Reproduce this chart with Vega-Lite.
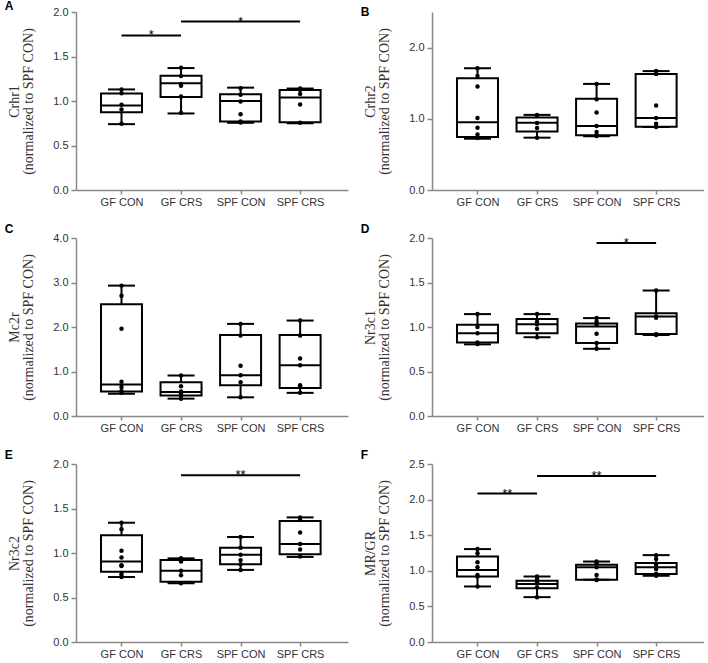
{
  "$schema": "https://vega.github.io/schema/vega-lite/v6.json",
  "padding": {"left": 4, "top": 0, "right": 0, "bottom": 0},
  "background": "#ffffff",
  "columns": 2,
  "spacing": {"row": 16, "column": 12},
  "datasets": {
    "boxes": [
      {"panel": "A", "group": "GF CON", "min": 0.74, "q1": 0.875, "median": 0.95, "q3": 1.085, "max": 1.13},
      {"panel": "A", "group": "GF CRS", "min": 0.86, "q1": 1.045, "median": 1.2, "q3": 1.285, "max": 1.37},
      {"panel": "A", "group": "SPF CON", "min": 0.755, "q1": 0.77, "median": 1.0, "q3": 1.075, "max": 1.15},
      {"panel": "A", "group": "SPF CRS", "min": 0.75, "q1": 0.76, "median": 1.04, "q3": 1.125, "max": 1.14},
      {"panel": "B", "group": "GF CON", "min": 0.72, "q1": 0.745, "median": 0.95, "q3": 1.57, "max": 1.71},
      {"panel": "B", "group": "GF CRS", "min": 0.735, "q1": 0.82, "median": 0.945, "q3": 1.02, "max": 1.055},
      {"panel": "B", "group": "SPF CON", "min": 0.755, "q1": 0.77, "median": 0.9, "q3": 1.28, "max": 1.49},
      {"panel": "B", "group": "SPF CRS", "min": 0.885, "q1": 0.89, "median": 1.01, "q3": 1.63, "max": 1.67},
      {"panel": "C", "group": "GF CON", "min": 0.5, "q1": 0.55, "median": 0.71, "q3": 2.51, "max": 2.93},
      {"panel": "C", "group": "GF CRS", "min": 0.39, "q1": 0.46, "median": 0.54, "q3": 0.76, "max": 0.91},
      {"panel": "C", "group": "SPF CON", "min": 0.42, "q1": 0.69, "median": 0.915, "q3": 1.82, "max": 2.07},
      {"panel": "C", "group": "SPF CRS", "min": 0.52, "q1": 0.63, "median": 1.14, "q3": 1.82, "max": 2.145},
      {"panel": "D", "group": "GF CON", "min": 0.805, "q1": 0.825, "median": 0.93, "q3": 1.025, "max": 1.145},
      {"panel": "D", "group": "GF CRS", "min": 0.885, "q1": 0.93, "median": 1.03, "q3": 1.09, "max": 1.145},
      {"panel": "D", "group": "SPF CON", "min": 0.755, "q1": 0.82, "median": 1.006, "q3": 1.04, "max": 1.1},
      {"panel": "D", "group": "SPF CRS", "min": 0.91, "q1": 0.92, "median": 1.117, "q3": 1.155, "max": 1.41},
      {"panel": "E", "group": "GF CON", "min": 0.73, "q1": 0.788, "median": 0.905, "q3": 1.2, "max": 1.34},
      {"panel": "E", "group": "GF CRS", "min": 0.66, "q1": 0.676, "median": 0.8, "q3": 0.92, "max": 0.94},
      {"panel": "E", "group": "SPF CON", "min": 0.81, "q1": 0.875, "median": 0.98, "q3": 1.06, "max": 1.18},
      {"panel": "E", "group": "SPF CRS", "min": 0.956, "q1": 0.987, "median": 1.1, "q3": 1.36, "max": 1.4},
      {"panel": "F", "group": "GF CON", "min": 0.78, "q1": 0.92, "median": 1.01, "q3": 1.2, "max": 1.305},
      {"panel": "F", "group": "GF CRS", "min": 0.63, "q1": 0.755, "median": 0.815, "q3": 0.86, "max": 0.92},
      {"panel": "F", "group": "SPF CON", "min": 0.875, "q1": 0.875, "median": 1.05, "q3": 1.086, "max": 1.13},
      {"panel": "F", "group": "SPF CRS", "min": 0.93, "q1": 0.955, "median": 1.05, "q3": 1.11, "max": 1.22}
    ],
    "points": [
      {"panel": "A", "group": "GF CON", "value": 1.13}, {"panel": "A", "group": "GF CON", "value": 1.088}, {"panel": "A", "group": "GF CON", "value": 0.957}, {"panel": "A", "group": "GF CON", "value": 0.905}, {"panel": "A", "group": "GF CON", "value": 0.745},
      {"panel": "A", "group": "GF CRS", "value": 1.375}, {"panel": "A", "group": "GF CRS", "value": 1.28}, {"panel": "A", "group": "GF CRS", "value": 1.19}, {"panel": "A", "group": "GF CRS", "value": 1.17}, {"panel": "A", "group": "GF CRS", "value": 1.05}, {"panel": "A", "group": "GF CRS", "value": 0.868},
      {"panel": "A", "group": "SPF CON", "value": 1.144}, {"panel": "A", "group": "SPF CON", "value": 1.07}, {"panel": "A", "group": "SPF CON", "value": 0.994}, {"panel": "A", "group": "SPF CON", "value": 0.85}, {"panel": "A", "group": "SPF CON", "value": 0.77}, {"panel": "A", "group": "SPF CON", "value": 0.758},
      {"panel": "A", "group": "SPF CRS", "value": 1.14}, {"panel": "A", "group": "SPF CRS", "value": 1.125}, {"panel": "A", "group": "SPF CRS", "value": 1.08}, {"panel": "A", "group": "SPF CRS", "value": 0.96}, {"panel": "A", "group": "SPF CRS", "value": 0.755},
      {"panel": "B", "group": "GF CON", "value": 1.71}, {"panel": "B", "group": "GF CON", "value": 1.6}, {"panel": "B", "group": "GF CON", "value": 1.455}, {"panel": "B", "group": "GF CON", "value": 1.01}, {"panel": "B", "group": "GF CON", "value": 0.875}, {"panel": "B", "group": "GF CON", "value": 0.78}, {"panel": "B", "group": "GF CON", "value": 0.73},
      {"panel": "B", "group": "GF CRS", "value": 1.055}, {"panel": "B", "group": "GF CRS", "value": 1.04}, {"panel": "B", "group": "GF CRS", "value": 0.94}, {"panel": "B", "group": "GF CRS", "value": 0.87}, {"panel": "B", "group": "GF CRS", "value": 0.735},
      {"panel": "B", "group": "SPF CON", "value": 1.49}, {"panel": "B", "group": "SPF CON", "value": 1.275}, {"panel": "B", "group": "SPF CON", "value": 1.09}, {"panel": "B", "group": "SPF CON", "value": 0.9}, {"panel": "B", "group": "SPF CON", "value": 0.815}, {"panel": "B", "group": "SPF CON", "value": 0.77}, {"panel": "B", "group": "SPF CON", "value": 0.758},
      {"panel": "B", "group": "SPF CRS", "value": 1.67}, {"panel": "B", "group": "SPF CRS", "value": 1.63}, {"panel": "B", "group": "SPF CRS", "value": 1.186}, {"panel": "B", "group": "SPF CRS", "value": 1.01}, {"panel": "B", "group": "SPF CRS", "value": 0.93}, {"panel": "B", "group": "SPF CRS", "value": 0.885},
      {"panel": "C", "group": "GF CON", "value": 2.93}, {"panel": "C", "group": "GF CON", "value": 2.7}, {"panel": "C", "group": "GF CON", "value": 1.96}, {"panel": "C", "group": "GF CON", "value": 0.77}, {"panel": "C", "group": "GF CON", "value": 0.65}, {"panel": "C", "group": "GF CON", "value": 0.56}, {"panel": "C", "group": "GF CON", "value": 0.52},
      {"panel": "C", "group": "GF CRS", "value": 0.91}, {"panel": "C", "group": "GF CRS", "value": 0.67}, {"panel": "C", "group": "GF CRS", "value": 0.55}, {"panel": "C", "group": "GF CRS", "value": 0.5}, {"panel": "C", "group": "GF CRS", "value": 0.45}, {"panel": "C", "group": "GF CRS", "value": 0.39},
      {"panel": "C", "group": "SPF CON", "value": 2.07}, {"panel": "C", "group": "SPF CON", "value": 1.81}, {"panel": "C", "group": "SPF CON", "value": 1.13}, {"panel": "C", "group": "SPF CON", "value": 0.915}, {"panel": "C", "group": "SPF CON", "value": 0.76}, {"panel": "C", "group": "SPF CON", "value": 0.42},
      {"panel": "C", "group": "SPF CRS", "value": 2.145}, {"panel": "C", "group": "SPF CRS", "value": 1.81}, {"panel": "C", "group": "SPF CRS", "value": 1.29}, {"panel": "C", "group": "SPF CRS", "value": 1.14}, {"panel": "C", "group": "SPF CRS", "value": 0.69}, {"panel": "C", "group": "SPF CRS", "value": 0.655}, {"panel": "C", "group": "SPF CRS", "value": 0.52},
      {"panel": "D", "group": "GF CON", "value": 1.145}, {"panel": "D", "group": "GF CON", "value": 1.0}, {"panel": "D", "group": "GF CON", "value": 0.93}, {"panel": "D", "group": "GF CON", "value": 0.825}, {"panel": "D", "group": "GF CON", "value": 0.81},
      {"panel": "D", "group": "GF CRS", "value": 1.145}, {"panel": "D", "group": "GF CRS", "value": 1.06}, {"panel": "D", "group": "GF CRS", "value": 1.03}, {"panel": "D", "group": "GF CRS", "value": 0.98}, {"panel": "D", "group": "GF CRS", "value": 0.885},
      {"panel": "D", "group": "SPF CON", "value": 1.1}, {"panel": "D", "group": "SPF CON", "value": 1.06}, {"panel": "D", "group": "SPF CON", "value": 1.03}, {"panel": "D", "group": "SPF CON", "value": 0.925}, {"panel": "D", "group": "SPF CON", "value": 0.82}, {"panel": "D", "group": "SPF CON", "value": 0.755},
      {"panel": "D", "group": "SPF CRS", "value": 1.41}, {"panel": "D", "group": "SPF CRS", "value": 1.12}, {"panel": "D", "group": "SPF CRS", "value": 1.105}, {"panel": "D", "group": "SPF CRS", "value": 0.92}, {"panel": "D", "group": "SPF CRS", "value": 0.91},
      {"panel": "E", "group": "GF CON", "value": 1.34}, {"panel": "E", "group": "GF CON", "value": 1.267}, {"panel": "E", "group": "GF CON", "value": 1.025}, {"panel": "E", "group": "GF CON", "value": 0.95}, {"panel": "E", "group": "GF CON", "value": 0.863}, {"panel": "E", "group": "GF CON", "value": 0.855}, {"panel": "E", "group": "GF CON", "value": 0.76}, {"panel": "E", "group": "GF CON", "value": 0.73},
      {"panel": "E", "group": "GF CRS", "value": 0.94}, {"panel": "E", "group": "GF CRS", "value": 0.905}, {"panel": "E", "group": "GF CRS", "value": 0.8}, {"panel": "E", "group": "GF CRS", "value": 0.75}, {"panel": "E", "group": "GF CRS", "value": 0.66},
      {"panel": "E", "group": "SPF CON", "value": 1.18}, {"panel": "E", "group": "SPF CON", "value": 1.06}, {"panel": "E", "group": "SPF CON", "value": 0.98}, {"panel": "E", "group": "SPF CON", "value": 0.92}, {"panel": "E", "group": "SPF CON", "value": 0.875}, {"panel": "E", "group": "SPF CON", "value": 0.81},
      {"panel": "E", "group": "SPF CRS", "value": 1.4}, {"panel": "E", "group": "SPF CRS", "value": 1.37}, {"panel": "E", "group": "SPF CRS", "value": 1.23}, {"panel": "E", "group": "SPF CRS", "value": 1.1}, {"panel": "E", "group": "SPF CRS", "value": 1.04}, {"panel": "E", "group": "SPF CRS", "value": 0.96},
      {"panel": "F", "group": "GF CON", "value": 1.305}, {"panel": "F", "group": "GF CON", "value": 1.245}, {"panel": "F", "group": "GF CON", "value": 1.12}, {"panel": "F", "group": "GF CON", "value": 1.05}, {"panel": "F", "group": "GF CON", "value": 0.94}, {"panel": "F", "group": "GF CON", "value": 0.92}, {"panel": "F", "group": "GF CON", "value": 0.78},
      {"panel": "F", "group": "GF CRS", "value": 0.92}, {"panel": "F", "group": "GF CRS", "value": 0.885}, {"panel": "F", "group": "GF CRS", "value": 0.84}, {"panel": "F", "group": "GF CRS", "value": 0.77}, {"panel": "F", "group": "GF CRS", "value": 0.63},
      {"panel": "F", "group": "SPF CON", "value": 1.13}, {"panel": "F", "group": "SPF CON", "value": 1.105}, {"panel": "F", "group": "SPF CON", "value": 1.05}, {"panel": "F", "group": "SPF CON", "value": 0.94}, {"panel": "F", "group": "SPF CON", "value": 0.878}, {"panel": "F", "group": "SPF CON", "value": 0.872},
      {"panel": "F", "group": "SPF CRS", "value": 1.22}, {"panel": "F", "group": "SPF CRS", "value": 1.165}, {"panel": "F", "group": "SPF CRS", "value": 1.085}, {"panel": "F", "group": "SPF CRS", "value": 1.025}, {"panel": "F", "group": "SPF CRS", "value": 0.96}, {"panel": "F", "group": "SPF CRS", "value": 0.94}, {"panel": "F", "group": "SPF CRS", "value": 0.93}
    ],
    "sig": [
      {"panel": "A", "from": "GF CON", "to": "GF CRS", "y": 1.736, "label": "*"},
      {"panel": "A", "from": "GF CRS", "to": "SPF CRS", "y": 1.892, "label": "*"},
      {"panel": "D", "from": "SPF CON", "to": "SPF CRS", "y": 1.944, "label": "*"},
      {"panel": "E", "from": "GF CRS", "to": "SPF CRS", "y": 1.873, "label": "**"},
      {"panel": "F", "from": "GF CON", "to": "GF CRS", "y": 2.084, "label": "**"},
      {"panel": "F", "from": "GF CRS", "to": "SPF CRS", "y": 2.332, "label": "**"}
    ]
  },
  "concat": [
    {
      "title": {"text": "A", "offset": -7},
      "width": 272, "height": 178,
      "encoding": {"x": {"field": "xi", "type": "quantitative", "scale": {"domain": [-0.68, 3.72], "nice": false, "zero": false}, "axis": {"values": [0, 1, 2, 3], "labelExpr": "['GF CON','GF CRS','SPF CON','SPF CRS'][datum.value]", "title": null}}},
      "layer": [
        {"data": {"name": "boxes"}, "transform": [{"filter": "datum.panel==='A'"}, {"calculate": "indexof(['GF CON','GF CRS','SPF CON','SPF CRS'],datum.group)", "as": "xi"}],
         "mark": {"type": "rule", "color": "#000", "strokeWidth": 2},
         "encoding": {"y": {"field": "min", "type": "quantitative", "scale": {"domain": [0, 2], "nice": false}, "axis": {"values": [0, 0.5, 1, 1.5, 2], "format": ".1f", "title": ["Crhr1", "(normalized to SPF CON)"]}}, "y2": {"field": "max"}}},
        {"data": {"name": "boxes"}, "transform": [{"filter": "datum.panel==='A'"}, {"calculate": "indexof(['GF CON','GF CRS','SPF CON','SPF CRS'],datum.group)", "as": "xi"}],
         "mark": {"type": "bar", "fill": "#fff", "stroke": "#000", "strokeWidth": 2, "width": 41},
         "encoding": {"y": {"field": "q1", "type": "quantitative", "scale": {"domain": [0, 2], "nice": false}}, "y2": {"field": "q3"}}},
        {"data": {"name": "boxes"}, "transform": [{"filter": "datum.panel==='A'"}, {"calculate": "indexof(['GF CON','GF CRS','SPF CON','SPF CRS'],datum.group)", "as": "xi"}],
         "mark": {"type": "tick", "orient": "horizontal", "color": "#000", "size": 41, "thickness": 2, "opacity": 1},
         "encoding": {"y": {"field": "median", "type": "quantitative", "scale": {"domain": [0, 2], "nice": false}}}},
        {"data": {"name": "boxes"}, "transform": [{"filter": "datum.panel==='A'"}, {"calculate": "indexof(['GF CON','GF CRS','SPF CON','SPF CRS'],datum.group)", "as": "xi"}],
         "mark": {"type": "tick", "orient": "horizontal", "color": "#000", "size": 27, "thickness": 2, "opacity": 1},
         "encoding": {"y": {"field": "min", "type": "quantitative", "scale": {"domain": [0, 2], "nice": false}}}},
        {"data": {"name": "boxes"}, "transform": [{"filter": "datum.panel==='A'"}, {"calculate": "indexof(['GF CON','GF CRS','SPF CON','SPF CRS'],datum.group)", "as": "xi"}],
         "mark": {"type": "tick", "orient": "horizontal", "color": "#000", "size": 27, "thickness": 2, "opacity": 1},
         "encoding": {"y": {"field": "max", "type": "quantitative", "scale": {"domain": [0, 2], "nice": false}}}},
        {"data": {"name": "points"}, "transform": [{"filter": "datum.panel==='A'"}, {"calculate": "indexof(['GF CON','GF CRS','SPF CON','SPF CRS'],datum.group)", "as": "xi"}],
         "mark": {"type": "circle", "color": "#000", "size": 20, "opacity": 1},
         "encoding": {"y": {"field": "value", "type": "quantitative", "scale": {"domain": [0, 2], "nice": false}}}},
        {"data": {"name": "sig"}, "transform": [{"filter": "datum.panel==='A'"}, {"calculate": "indexof(['GF CON','GF CRS','SPF CON','SPF CRS'],datum.from)", "as": "xf"}, {"calculate": "indexof(['GF CON','GF CRS','SPF CON','SPF CRS'],datum.to)", "as": "xt"}],
         "mark": {"type": "rule", "color": "#000", "strokeWidth": 2},
         "encoding": {"x": {"field": "xf", "type": "quantitative"}, "x2": {"field": "xt"}, "y": {"field": "y", "type": "quantitative", "scale": {"domain": [0, 2], "nice": false}}}},
        {"data": {"name": "sig"}, "transform": [{"filter": "datum.panel==='A'"}, {"calculate": "(indexof(['GF CON','GF CRS','SPF CON','SPF CRS'],datum.from)+indexof(['GF CON','GF CRS','SPF CON','SPF CRS'],datum.to))/2", "as": "xm"}],
         "mark": {"type": "text", "color": "#000", "font": "Liberation Sans", "fontSize": 13, "baseline": "alphabetic", "dy": 4},
         "encoding": {"x": {"field": "xm", "type": "quantitative"}, "y": {"field": "y", "type": "quantitative", "scale": {"domain": [0, 2], "nice": false}}, "text": {"field": "label"}}}
      ]
    },
    {
      "title": {"text": "B", "offset": -7},
      "width": 272, "height": 178,
      "encoding": {"x": {"field": "xi", "type": "quantitative", "scale": {"domain": [-0.68, 3.72], "nice": false, "zero": false}, "axis": {"values": [0, 1, 2, 3], "labelExpr": "['GF CON','GF CRS','SPF CON','SPF CRS'][datum.value]", "title": null}}},
      "layer": [
        {"data": {"name": "boxes"}, "transform": [{"filter": "datum.panel==='B'"}, {"calculate": "indexof(['GF CON','GF CRS','SPF CON','SPF CRS'],datum.group)", "as": "xi"}],
         "mark": {"type": "rule", "color": "#000", "strokeWidth": 2},
         "encoding": {"y": {"field": "min", "type": "quantitative", "scale": {"domain": [0, 2.5], "nice": false}, "axis": {"values": [0, 1, 2], "format": ".1f", "title": ["Crhr2", "(normalized to SPF CON)"]}}, "y2": {"field": "max"}}},
        {"data": {"name": "boxes"}, "transform": [{"filter": "datum.panel==='B'"}, {"calculate": "indexof(['GF CON','GF CRS','SPF CON','SPF CRS'],datum.group)", "as": "xi"}],
         "mark": {"type": "bar", "fill": "#fff", "stroke": "#000", "strokeWidth": 2, "width": 41},
         "encoding": {"y": {"field": "q1", "type": "quantitative", "scale": {"domain": [0, 2.5], "nice": false}}, "y2": {"field": "q3"}}},
        {"data": {"name": "boxes"}, "transform": [{"filter": "datum.panel==='B'"}, {"calculate": "indexof(['GF CON','GF CRS','SPF CON','SPF CRS'],datum.group)", "as": "xi"}],
         "mark": {"type": "tick", "orient": "horizontal", "color": "#000", "size": 41, "thickness": 2, "opacity": 1},
         "encoding": {"y": {"field": "median", "type": "quantitative", "scale": {"domain": [0, 2.5], "nice": false}}}},
        {"data": {"name": "boxes"}, "transform": [{"filter": "datum.panel==='B'"}, {"calculate": "indexof(['GF CON','GF CRS','SPF CON','SPF CRS'],datum.group)", "as": "xi"}],
         "mark": {"type": "tick", "orient": "horizontal", "color": "#000", "size": 27, "thickness": 2, "opacity": 1},
         "encoding": {"y": {"field": "min", "type": "quantitative", "scale": {"domain": [0, 2.5], "nice": false}}}},
        {"data": {"name": "boxes"}, "transform": [{"filter": "datum.panel==='B'"}, {"calculate": "indexof(['GF CON','GF CRS','SPF CON','SPF CRS'],datum.group)", "as": "xi"}],
         "mark": {"type": "tick", "orient": "horizontal", "color": "#000", "size": 27, "thickness": 2, "opacity": 1},
         "encoding": {"y": {"field": "max", "type": "quantitative", "scale": {"domain": [0, 2.5], "nice": false}}}},
        {"data": {"name": "points"}, "transform": [{"filter": "datum.panel==='B'"}, {"calculate": "indexof(['GF CON','GF CRS','SPF CON','SPF CRS'],datum.group)", "as": "xi"}],
         "mark": {"type": "circle", "color": "#000", "size": 20, "opacity": 1},
         "encoding": {"y": {"field": "value", "type": "quantitative", "scale": {"domain": [0, 2.5], "nice": false}}}}
      ]
    },
    {
      "title": {"text": "C"},
      "width": 272, "height": 178,
      "encoding": {"x": {"field": "xi", "type": "quantitative", "scale": {"domain": [-0.68, 3.72], "nice": false, "zero": false}, "axis": {"values": [0, 1, 2, 3], "labelExpr": "['GF CON','GF CRS','SPF CON','SPF CRS'][datum.value]", "title": null}}},
      "layer": [
        {"data": {"name": "boxes"}, "transform": [{"filter": "datum.panel==='C'"}, {"calculate": "indexof(['GF CON','GF CRS','SPF CON','SPF CRS'],datum.group)", "as": "xi"}],
         "mark": {"type": "rule", "color": "#000", "strokeWidth": 2},
         "encoding": {"y": {"field": "min", "type": "quantitative", "scale": {"domain": [0, 4], "nice": false}, "axis": {"values": [0, 1, 2, 3, 4], "format": ".1f", "title": ["Mc2r", "(normalized to SPF CON)"]}}, "y2": {"field": "max"}}},
        {"data": {"name": "boxes"}, "transform": [{"filter": "datum.panel==='C'"}, {"calculate": "indexof(['GF CON','GF CRS','SPF CON','SPF CRS'],datum.group)", "as": "xi"}],
         "mark": {"type": "bar", "fill": "#fff", "stroke": "#000", "strokeWidth": 2, "width": 41},
         "encoding": {"y": {"field": "q1", "type": "quantitative", "scale": {"domain": [0, 4], "nice": false}}, "y2": {"field": "q3"}}},
        {"data": {"name": "boxes"}, "transform": [{"filter": "datum.panel==='C'"}, {"calculate": "indexof(['GF CON','GF CRS','SPF CON','SPF CRS'],datum.group)", "as": "xi"}],
         "mark": {"type": "tick", "orient": "horizontal", "color": "#000", "size": 41, "thickness": 2, "opacity": 1},
         "encoding": {"y": {"field": "median", "type": "quantitative", "scale": {"domain": [0, 4], "nice": false}}}},
        {"data": {"name": "boxes"}, "transform": [{"filter": "datum.panel==='C'"}, {"calculate": "indexof(['GF CON','GF CRS','SPF CON','SPF CRS'],datum.group)", "as": "xi"}],
         "mark": {"type": "tick", "orient": "horizontal", "color": "#000", "size": 27, "thickness": 2, "opacity": 1},
         "encoding": {"y": {"field": "min", "type": "quantitative", "scale": {"domain": [0, 4], "nice": false}}}},
        {"data": {"name": "boxes"}, "transform": [{"filter": "datum.panel==='C'"}, {"calculate": "indexof(['GF CON','GF CRS','SPF CON','SPF CRS'],datum.group)", "as": "xi"}],
         "mark": {"type": "tick", "orient": "horizontal", "color": "#000", "size": 27, "thickness": 2, "opacity": 1},
         "encoding": {"y": {"field": "max", "type": "quantitative", "scale": {"domain": [0, 4], "nice": false}}}},
        {"data": {"name": "points"}, "transform": [{"filter": "datum.panel==='C'"}, {"calculate": "indexof(['GF CON','GF CRS','SPF CON','SPF CRS'],datum.group)", "as": "xi"}],
         "mark": {"type": "circle", "color": "#000", "size": 20, "opacity": 1},
         "encoding": {"y": {"field": "value", "type": "quantitative", "scale": {"domain": [0, 4], "nice": false}}}}
      ]
    },
    {
      "title": {"text": "D"},
      "width": 272, "height": 178,
      "encoding": {"x": {"field": "xi", "type": "quantitative", "scale": {"domain": [-0.68, 3.72], "nice": false, "zero": false}, "axis": {"values": [0, 1, 2, 3], "labelExpr": "['GF CON','GF CRS','SPF CON','SPF CRS'][datum.value]", "title": null}}},
      "layer": [
        {"data": {"name": "boxes"}, "transform": [{"filter": "datum.panel==='D'"}, {"calculate": "indexof(['GF CON','GF CRS','SPF CON','SPF CRS'],datum.group)", "as": "xi"}],
         "mark": {"type": "rule", "color": "#000", "strokeWidth": 2},
         "encoding": {"y": {"field": "min", "type": "quantitative", "scale": {"domain": [0, 2], "nice": false}, "axis": {"values": [0, 0.5, 1, 1.5, 2], "format": ".1f", "title": ["Nr3c1", "(normalized to SPF CON)"]}}, "y2": {"field": "max"}}},
        {"data": {"name": "boxes"}, "transform": [{"filter": "datum.panel==='D'"}, {"calculate": "indexof(['GF CON','GF CRS','SPF CON','SPF CRS'],datum.group)", "as": "xi"}],
         "mark": {"type": "bar", "fill": "#fff", "stroke": "#000", "strokeWidth": 2, "width": 41},
         "encoding": {"y": {"field": "q1", "type": "quantitative", "scale": {"domain": [0, 2], "nice": false}}, "y2": {"field": "q3"}}},
        {"data": {"name": "boxes"}, "transform": [{"filter": "datum.panel==='D'"}, {"calculate": "indexof(['GF CON','GF CRS','SPF CON','SPF CRS'],datum.group)", "as": "xi"}],
         "mark": {"type": "tick", "orient": "horizontal", "color": "#000", "size": 41, "thickness": 2, "opacity": 1},
         "encoding": {"y": {"field": "median", "type": "quantitative", "scale": {"domain": [0, 2], "nice": false}}}},
        {"data": {"name": "boxes"}, "transform": [{"filter": "datum.panel==='D'"}, {"calculate": "indexof(['GF CON','GF CRS','SPF CON','SPF CRS'],datum.group)", "as": "xi"}],
         "mark": {"type": "tick", "orient": "horizontal", "color": "#000", "size": 27, "thickness": 2, "opacity": 1},
         "encoding": {"y": {"field": "min", "type": "quantitative", "scale": {"domain": [0, 2], "nice": false}}}},
        {"data": {"name": "boxes"}, "transform": [{"filter": "datum.panel==='D'"}, {"calculate": "indexof(['GF CON','GF CRS','SPF CON','SPF CRS'],datum.group)", "as": "xi"}],
         "mark": {"type": "tick", "orient": "horizontal", "color": "#000", "size": 27, "thickness": 2, "opacity": 1},
         "encoding": {"y": {"field": "max", "type": "quantitative", "scale": {"domain": [0, 2], "nice": false}}}},
        {"data": {"name": "points"}, "transform": [{"filter": "datum.panel==='D'"}, {"calculate": "indexof(['GF CON','GF CRS','SPF CON','SPF CRS'],datum.group)", "as": "xi"}],
         "mark": {"type": "circle", "color": "#000", "size": 20, "opacity": 1},
         "encoding": {"y": {"field": "value", "type": "quantitative", "scale": {"domain": [0, 2], "nice": false}}}},
        {"data": {"name": "sig"}, "transform": [{"filter": "datum.panel==='D'"}, {"calculate": "indexof(['GF CON','GF CRS','SPF CON','SPF CRS'],datum.from)", "as": "xf"}, {"calculate": "indexof(['GF CON','GF CRS','SPF CON','SPF CRS'],datum.to)", "as": "xt"}],
         "mark": {"type": "rule", "color": "#000", "strokeWidth": 2},
         "encoding": {"x": {"field": "xf", "type": "quantitative"}, "x2": {"field": "xt"}, "y": {"field": "y", "type": "quantitative", "scale": {"domain": [0, 2], "nice": false}}}},
        {"data": {"name": "sig"}, "transform": [{"filter": "datum.panel==='D'"}, {"calculate": "(indexof(['GF CON','GF CRS','SPF CON','SPF CRS'],datum.from)+indexof(['GF CON','GF CRS','SPF CON','SPF CRS'],datum.to))/2", "as": "xm"}],
         "mark": {"type": "text", "color": "#000", "font": "Liberation Sans", "fontSize": 13, "baseline": "alphabetic", "dy": 4},
         "encoding": {"x": {"field": "xm", "type": "quantitative"}, "y": {"field": "y", "type": "quantitative", "scale": {"domain": [0, 2], "nice": false}}, "text": {"field": "label"}}}
      ]
    },
    {
      "title": {"text": "E"},
      "width": 272, "height": 178,
      "encoding": {"x": {"field": "xi", "type": "quantitative", "scale": {"domain": [-0.68, 3.72], "nice": false, "zero": false}, "axis": {"values": [0, 1, 2, 3], "labelExpr": "['GF CON','GF CRS','SPF CON','SPF CRS'][datum.value]", "title": null}}},
      "layer": [
        {"data": {"name": "boxes"}, "transform": [{"filter": "datum.panel==='E'"}, {"calculate": "indexof(['GF CON','GF CRS','SPF CON','SPF CRS'],datum.group)", "as": "xi"}],
         "mark": {"type": "rule", "color": "#000", "strokeWidth": 2},
         "encoding": {"y": {"field": "min", "type": "quantitative", "scale": {"domain": [0, 2], "nice": false}, "axis": {"values": [0, 0.5, 1, 1.5, 2], "format": ".1f", "title": ["Nr3c2", "(normalized to SPF CON)"]}}, "y2": {"field": "max"}}},
        {"data": {"name": "boxes"}, "transform": [{"filter": "datum.panel==='E'"}, {"calculate": "indexof(['GF CON','GF CRS','SPF CON','SPF CRS'],datum.group)", "as": "xi"}],
         "mark": {"type": "bar", "fill": "#fff", "stroke": "#000", "strokeWidth": 2, "width": 41},
         "encoding": {"y": {"field": "q1", "type": "quantitative", "scale": {"domain": [0, 2], "nice": false}}, "y2": {"field": "q3"}}},
        {"data": {"name": "boxes"}, "transform": [{"filter": "datum.panel==='E'"}, {"calculate": "indexof(['GF CON','GF CRS','SPF CON','SPF CRS'],datum.group)", "as": "xi"}],
         "mark": {"type": "tick", "orient": "horizontal", "color": "#000", "size": 41, "thickness": 2, "opacity": 1},
         "encoding": {"y": {"field": "median", "type": "quantitative", "scale": {"domain": [0, 2], "nice": false}}}},
        {"data": {"name": "boxes"}, "transform": [{"filter": "datum.panel==='E'"}, {"calculate": "indexof(['GF CON','GF CRS','SPF CON','SPF CRS'],datum.group)", "as": "xi"}],
         "mark": {"type": "tick", "orient": "horizontal", "color": "#000", "size": 27, "thickness": 2, "opacity": 1},
         "encoding": {"y": {"field": "min", "type": "quantitative", "scale": {"domain": [0, 2], "nice": false}}}},
        {"data": {"name": "boxes"}, "transform": [{"filter": "datum.panel==='E'"}, {"calculate": "indexof(['GF CON','GF CRS','SPF CON','SPF CRS'],datum.group)", "as": "xi"}],
         "mark": {"type": "tick", "orient": "horizontal", "color": "#000", "size": 27, "thickness": 2, "opacity": 1},
         "encoding": {"y": {"field": "max", "type": "quantitative", "scale": {"domain": [0, 2], "nice": false}}}},
        {"data": {"name": "points"}, "transform": [{"filter": "datum.panel==='E'"}, {"calculate": "indexof(['GF CON','GF CRS','SPF CON','SPF CRS'],datum.group)", "as": "xi"}],
         "mark": {"type": "circle", "color": "#000", "size": 20, "opacity": 1},
         "encoding": {"y": {"field": "value", "type": "quantitative", "scale": {"domain": [0, 2], "nice": false}}}},
        {"data": {"name": "sig"}, "transform": [{"filter": "datum.panel==='E'"}, {"calculate": "indexof(['GF CON','GF CRS','SPF CON','SPF CRS'],datum.from)", "as": "xf"}, {"calculate": "indexof(['GF CON','GF CRS','SPF CON','SPF CRS'],datum.to)", "as": "xt"}],
         "mark": {"type": "rule", "color": "#000", "strokeWidth": 2},
         "encoding": {"x": {"field": "xf", "type": "quantitative"}, "x2": {"field": "xt"}, "y": {"field": "y", "type": "quantitative", "scale": {"domain": [0, 2], "nice": false}}}},
        {"data": {"name": "sig"}, "transform": [{"filter": "datum.panel==='E'"}, {"calculate": "(indexof(['GF CON','GF CRS','SPF CON','SPF CRS'],datum.from)+indexof(['GF CON','GF CRS','SPF CON','SPF CRS'],datum.to))/2", "as": "xm"}],
         "mark": {"type": "text", "color": "#000", "font": "Liberation Sans", "fontSize": 13, "baseline": "alphabetic", "dy": 4},
         "encoding": {"x": {"field": "xm", "type": "quantitative"}, "y": {"field": "y", "type": "quantitative", "scale": {"domain": [0, 2], "nice": false}}, "text": {"field": "label"}}}
      ]
    },
    {
      "title": {"text": "F"},
      "width": 272, "height": 178,
      "encoding": {"x": {"field": "xi", "type": "quantitative", "scale": {"domain": [-0.68, 3.72], "nice": false, "zero": false}, "axis": {"values": [0, 1, 2, 3], "labelExpr": "['GF CON','GF CRS','SPF CON','SPF CRS'][datum.value]", "title": null}}},
      "layer": [
        {"data": {"name": "boxes"}, "transform": [{"filter": "datum.panel==='F'"}, {"calculate": "indexof(['GF CON','GF CRS','SPF CON','SPF CRS'],datum.group)", "as": "xi"}],
         "mark": {"type": "rule", "color": "#000", "strokeWidth": 2},
         "encoding": {"y": {"field": "min", "type": "quantitative", "scale": {"domain": [0, 2.5], "nice": false}, "axis": {"tickCount": 5, "format": ".1f", "labelOverlap": false, "title": ["MR/GR", "(normalized to SPF CON)"]}}, "y2": {"field": "max"}}},
        {"data": {"name": "boxes"}, "transform": [{"filter": "datum.panel==='F'"}, {"calculate": "indexof(['GF CON','GF CRS','SPF CON','SPF CRS'],datum.group)", "as": "xi"}],
         "mark": {"type": "bar", "fill": "#fff", "stroke": "#000", "strokeWidth": 2, "width": 41},
         "encoding": {"y": {"field": "q1", "type": "quantitative", "scale": {"domain": [0, 2.5], "nice": false}}, "y2": {"field": "q3"}}},
        {"data": {"name": "boxes"}, "transform": [{"filter": "datum.panel==='F'"}, {"calculate": "indexof(['GF CON','GF CRS','SPF CON','SPF CRS'],datum.group)", "as": "xi"}],
         "mark": {"type": "tick", "orient": "horizontal", "color": "#000", "size": 41, "thickness": 2, "opacity": 1},
         "encoding": {"y": {"field": "median", "type": "quantitative", "scale": {"domain": [0, 2.5], "nice": false}}}},
        {"data": {"name": "boxes"}, "transform": [{"filter": "datum.panel==='F'"}, {"calculate": "indexof(['GF CON','GF CRS','SPF CON','SPF CRS'],datum.group)", "as": "xi"}],
         "mark": {"type": "tick", "orient": "horizontal", "color": "#000", "size": 27, "thickness": 2, "opacity": 1},
         "encoding": {"y": {"field": "min", "type": "quantitative", "scale": {"domain": [0, 2.5], "nice": false}}}},
        {"data": {"name": "boxes"}, "transform": [{"filter": "datum.panel==='F'"}, {"calculate": "indexof(['GF CON','GF CRS','SPF CON','SPF CRS'],datum.group)", "as": "xi"}],
         "mark": {"type": "tick", "orient": "horizontal", "color": "#000", "size": 27, "thickness": 2, "opacity": 1},
         "encoding": {"y": {"field": "max", "type": "quantitative", "scale": {"domain": [0, 2.5], "nice": false}}}},
        {"data": {"name": "points"}, "transform": [{"filter": "datum.panel==='F'"}, {"calculate": "indexof(['GF CON','GF CRS','SPF CON','SPF CRS'],datum.group)", "as": "xi"}],
         "mark": {"type": "circle", "color": "#000", "size": 20, "opacity": 1},
         "encoding": {"y": {"field": "value", "type": "quantitative", "scale": {"domain": [0, 2.5], "nice": false}}}},
        {"data": {"name": "sig"}, "transform": [{"filter": "datum.panel==='F'"}, {"calculate": "indexof(['GF CON','GF CRS','SPF CON','SPF CRS'],datum.from)", "as": "xf"}, {"calculate": "indexof(['GF CON','GF CRS','SPF CON','SPF CRS'],datum.to)", "as": "xt"}],
         "mark": {"type": "rule", "color": "#000", "strokeWidth": 2},
         "encoding": {"x": {"field": "xf", "type": "quantitative"}, "x2": {"field": "xt"}, "y": {"field": "y", "type": "quantitative", "scale": {"domain": [0, 2.5], "nice": false}}}},
        {"data": {"name": "sig"}, "transform": [{"filter": "datum.panel==='F'"}, {"calculate": "(indexof(['GF CON','GF CRS','SPF CON','SPF CRS'],datum.from)+indexof(['GF CON','GF CRS','SPF CON','SPF CRS'],datum.to))/2", "as": "xm"}],
         "mark": {"type": "text", "color": "#000", "font": "Liberation Sans", "fontSize": 13, "baseline": "alphabetic", "dy": 4},
         "encoding": {"x": {"field": "xm", "type": "quantitative"}, "y": {"field": "y", "type": "quantitative", "scale": {"domain": [0, 2.5], "nice": false}}, "text": {"field": "label"}}}
      ]
    }
  ],
  "config": {
    "view": {"stroke": null},
    "axis": {"grid": false, "labelOverlap": false, "labelFlush": false, "domainColor": "#888888", "domainWidth": 1.5, "tickColor": "#888888", "tickWidth": 1.5, "tickSize": 5, "labelFont": "Liberation Sans", "labelFontSize": 11, "labelColor": "#333333", "labelPadding": 3, "titleFont": "Liberation Serif", "titleFontSize": 14, "titleFontWeight": "normal", "titleColor": "#333333", "titleLineHeight": 14},
    "axisX": {"tickSize": 4, "labelPadding": 2},
    "axisY": {"titlePadding": 17},
    "title": {"anchor": "start", "frame": "bounds", "font": "Liberation Sans", "fontSize": 12, "fontWeight": "bold", "color": "#000000", "offset": -4, "dx": -3}
  }
}
